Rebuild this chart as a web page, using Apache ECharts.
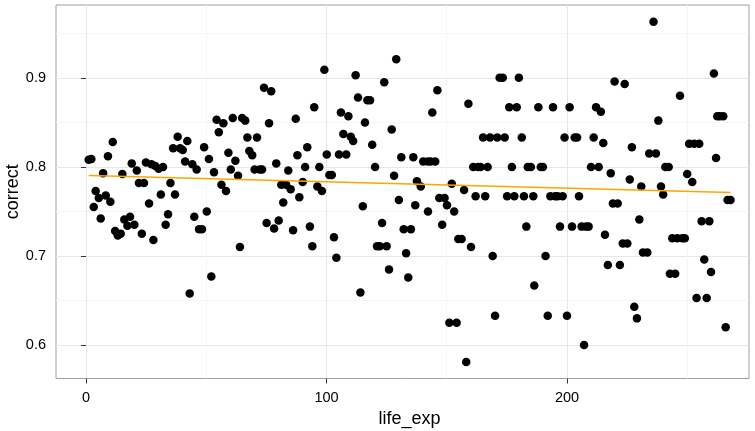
<!DOCTYPE html>
<html>
<head>
<meta charset="utf-8">
<script src="https://cdn.jsdelivr.net/npm/echarts@6/dist/echarts.min.js"></script>
<style>
html, body { margin: 0; padding: 0; background: #fff; }
#main { width: 755px; height: 431px; }
</style>
</head>
<body>
<div id="main"></div>
<script>
// values
let lifeExp = [
  1.1, 2.2, 11.1, 9.1, 7.1, 4.0, 5.3, 3.2, 8.2, 10.1, 6.1, 15.1, 19.0, 21.1, 22.0, 24.1, 24.9, 27.2, 28.8, 30.2,
  32.0, 35.1, 31.1, 37.0, 26.2, 34.1, 33.1, 15.9, 18.3, 17.2, 20.1, 12.1, 13.2, 14.4, 23.2, 28.0, 38.1, 36.2, 39.1, 40.2,
  42.1, 41.2, 44.2, 46.0, 49.1, 51.1, 53.2, 54.3, 55.2, 57.1, 61.0, 64.9, 66.2, 59.2, 62.1, 60.2, 63.2, 56.3, 58.2, 67.1,
  71.1, 67.9, 69.1, 70.1, 72.3, 73.2, 74.0, 77.0, 76.1, 79.1, 84.1, 87.2, 87.9, 81.2, 83.2, 85.1, 88.7, 82.0, 45.0, 47.0,
  48.2, 50.2, 64.0, 52.1, 43.1, 75.1, 78.2, 80.1, 86.1, 94.9, 99.1, 92.0, 91.1, 97.0, 100.1, 90.1, 96.2, 98.1, 101.2, 102.2,
  93.1, 94.1, 103.1, 104.1, 106.0, 109.1, 107.0, 110.1, 111.1, 105.2, 108.2, 112.1, 113.1, 117.0, 118.1, 116.0, 119.0, 120.2, 115.1, 114.1,
  123.1, 121.0, 122.1, 125.0, 126.0, 124.0, 129.0, 127.1, 131.1, 136.1, 128.1, 130.1, 136.9, 132.1, 135.1, 133.1, 134.0, 137.6, 139.2, 140.2,
  142.1, 143.3, 145.2, 146.1, 144.0, 142.2, 146.9, 149.1, 150.1, 148.1, 152.1, 153.1, 157.2, 159.0, 154.8, 156.2, 160.1, 151.1, 154.1, 158.1,
  161.0, 163.0, 164.1, 167.0, 162.0, 166.0, 165.1, 168.0, 171.0, 174.1, 172.0, 173.3, 180.0, 176.0, 179.1, 181.2, 177.1, 183.7, 185.0, 175.1,
  178.1, 182.1, 186.0, 183.1, 169.1, 170.1, 186.4, 188.1, 194.2, 201.1, 212.1, 214.1, 219.8, 224.0, 199.0, 203.2, 204.2, 211.1, 215.1, 227.0,
  189.1, 190.0, 210.0, 213.2, 218.2, 226.1, 230.9, 193.1, 195.1, 196.1, 198.2, 205.0, 219.1, 221.1, 230.1, 197.1, 202.1, 206.1, 208.0, 209.0,
  215.8, 223.2, 225.1, 231.6, 191.1, 217.0, 222.0, 192.0, 200.0, 207.1, 228.0, 229.1, 236.0, 261.1, 247.0, 238.0, 262.5, 263.6, 265.0, 250.8,
  252.9, 255.0, 234.2, 237.0, 262.0, 240.9, 242.3, 250.0, 252.1, 239.1, 240.0, 266.8, 268.0, 256.0, 259.2, 243.8, 245.9, 248.0, 249.0, 233.4,
  257.1, 259.9, 242.8, 245.0, 253.9, 258.1, 266.0
];
let correct = [
  0.808, 0.809, 0.828, 0.812, 0.793, 0.773, 0.765, 0.755, 0.768, 0.761, 0.742, 0.792, 0.804, 0.796, 0.782, 0.782, 0.805, 0.803, 0.801, 0.798,
  0.800, 0.782, 0.769, 0.769, 0.759, 0.747, 0.735, 0.741, 0.744, 0.734, 0.735, 0.728, 0.723, 0.725, 0.725, 0.718, 0.834, 0.821, 0.821, 0.819,
  0.829, 0.806, 0.803, 0.797, 0.822, 0.809, 0.794, 0.853, 0.839, 0.849, 0.855, 0.855, 0.852, 0.816, 0.807, 0.797, 0.790, 0.780, 0.773, 0.833,
  0.833, 0.818, 0.813, 0.797, 0.797, 0.797, 0.889, 0.885, 0.849, 0.804, 0.796, 0.854, 0.813, 0.780, 0.780, 0.775, 0.766, 0.760, 0.744, 0.730,
  0.730, 0.750, 0.710, 0.677, 0.658, 0.737, 0.731, 0.740, 0.729, 0.867, 0.909, 0.822, 0.800, 0.800, 0.814, 0.783, 0.778, 0.773, 0.791, 0.791,
  0.733, 0.711, 0.721, 0.698, 0.861, 0.857, 0.837, 0.834, 0.829, 0.814, 0.814, 0.903, 0.878, 0.875, 0.875, 0.850, 0.825, 0.800, 0.756, 0.659,
  0.737, 0.711, 0.711, 0.711, 0.685, 0.895, 0.921, 0.842, 0.811, 0.811, 0.790, 0.763, 0.757, 0.730, 0.730, 0.703, 0.676, 0.784, 0.778, 0.806,
  0.806, 0.806, 0.806, 0.886, 0.861, 0.750, 0.765, 0.765, 0.757, 0.735, 0.781, 0.750, 0.774, 0.871, 0.719, 0.719, 0.710, 0.625, 0.625, 0.581,
  0.800, 0.800, 0.800, 0.800, 0.767, 0.767, 0.833, 0.833, 0.833, 0.833, 0.900, 0.900, 0.900, 0.867, 0.867, 0.833, 0.800, 0.800, 0.800, 0.767,
  0.767, 0.767, 0.767, 0.733, 0.700, 0.633, 0.667, 0.867, 0.867, 0.867, 0.867, 0.862, 0.896, 0.893, 0.833, 0.833, 0.833, 0.833, 0.827, 0.822,
  0.800, 0.800, 0.800, 0.800, 0.793, 0.786, 0.778, 0.767, 0.767, 0.767, 0.767, 0.767, 0.759, 0.759, 0.741, 0.733, 0.733, 0.733, 0.733, 0.733,
  0.724, 0.714, 0.714, 0.704, 0.700, 0.690, 0.690, 0.633, 0.633, 0.600, 0.643, 0.630, 0.963, 0.905, 0.880, 0.852, 0.857, 0.857, 0.857, 0.826,
  0.826, 0.826, 0.815, 0.815, 0.810, 0.800, 0.800, 0.792, 0.783, 0.778, 0.769, 0.763, 0.763, 0.739, 0.739, 0.720, 0.720, 0.720, 0.720, 0.704,
  0.696, 0.682, 0.680, 0.680, 0.653, 0.653, 0.620
];

let xTicks = [0, 100, 200];
let xMinorTicks = [50, 150, 250];
let yTicks = [0.6, 0.7, 0.8, 0.9];
let yMinorTicks = [0.65, 0.75, 0.85, 0.95];

let points = lifeExp.map(function (x, i) { return [x, correct[i]]; });

// straight lm fit, like geom_smooth(method = "lm", se = FALSE)
let fitLine = function () {
    let n = lifeExp.length, sx = 0, sy = 0, sxx = 0, sxy = 0;
    for (let i = 0; i < n; i++) {
        sx += lifeExp[i]; sy += correct[i];
        sxx += lifeExp[i] * lifeExp[i]; sxy += lifeExp[i] * correct[i];
    }
    let b = (n * sxy - sx * sy) / (n * sxx - sx * sx);
    let a = (sy - b * sx) / n;
    let lo = Math.min.apply(null, lifeExp), hi = Math.max.apply(null, lifeExp);
    return [[lo, a + b * lo], [hi, a + b * hi]];
};

let font = 'Liberation Sans, Arial, sans-serif';
let xMin = -12.5, xMax = 275.7;
let yMin = 0.5625, yMax = 0.9818;

let myChart = echarts.init(document.getElementById('main'));

let option = {
    animation: false,
    backgroundColor: '#fff',
    grid: {
        left: 56, top: 5, width: 693, height: 373.5,
        outerBoundsMode: 'none', containLabel: false,
        show: true, borderColor: '#9e9e9e', borderWidth: 1, backgroundColor: '#fff'
    },
    xAxis: [{
        type: 'value', min: xMin, max: xMax,
        name: 'life_exp', nameLocation: 'middle', nameGap: 26,
        nameTextStyle: { fontFamily: font, fontSize: 18, color: '#000', padding: [0, 0, 0, 14] },
        axisLine: { show: false },
        axisTick: { show: true, length: 5, customValues: xTicks, lineStyle: { color: '#333' } },
        axisLabel: { customValues: xTicks, margin: 12, fontFamily: font, fontSize: 14.5, color: '#000' },
        splitLine: { show: true, lineStyle: { color: '#e6e6e6', width: 1 } }
    }, {
        type: 'value', min: xMin, max: xMax, position: 'bottom',
        axisLine: { show: false },
        axisTick: { show: false, customValues: xMinorTicks },
        axisLabel: { show: false, customValues: xMinorTicks },
        splitLine: { show: true, lineStyle: { color: '#f5f5f5', width: 1 } }
    }],
    yAxis: [{
        type: 'value', min: yMin, max: yMax,
        name: 'correct', nameLocation: 'middle', nameGap: 34, nameRotate: 90,
        nameMoveOverlap: false,
        nameTextStyle: { fontFamily: font, fontSize: 18, color: '#000' },
        axisLine: { show: false },
        axisTick: { show: true, length: 5, customValues: yTicks, lineStyle: { color: '#333' } },
        axisLabel: {
            customValues: yTicks, margin: 10, fontFamily: font, fontSize: 14.5, color: '#000',
            formatter: function (v) { return v.toFixed(1); }
        },
        splitLine: { show: true, lineStyle: { color: '#e6e6e6', width: 1 } }
    }, {
        type: 'value', min: yMin, max: yMax, position: 'left',
        axisLine: { show: false },
        axisTick: { show: false, customValues: yMinorTicks },
        axisLabel: { show: false, customValues: yMinorTicks },
        splitLine: { show: true, lineStyle: { color: '#f5f5f5', width: 1 } }
    }],
    series: [{
        name: 'points',
        type: 'scatter',
        data: points,
        symbolSize: 8.5,
        itemStyle: { color: '#000', opacity: 1 },
        z: 3
    }, {
        name: 'lm',
        type: 'line',
        data: fitLine(),
        showSymbol: false,
        lineStyle: { color: '#ffa500', width: 1.5 },
        z: 4
    }]
};

myChart.setOption(option);
</script>
</body>
</html>
